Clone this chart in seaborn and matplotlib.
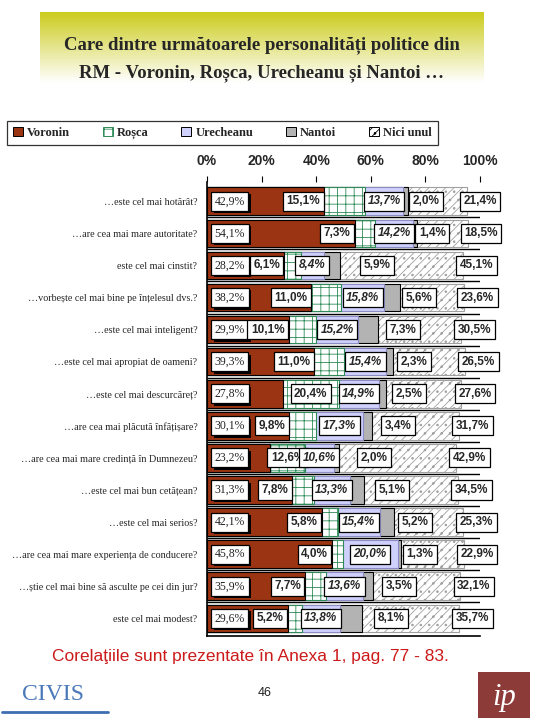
import numpy as np
import pandas as pd
import matplotlib
matplotlib.use("Agg")
import matplotlib.pyplot as plt
import matplotlib.patheffects as pe
from matplotlib.patches import Patch, Rectangle
import seaborn as sns

questions = [
    "…este cel mai hotărât?",
    "…are cea mai mare autoritate?",
    "este cel mai cinstit?",
    "…vorbește cel mai bine pe înțelesul dvs.?",
    "…este cel mai inteligent?",
    "…este cel mai apropiat de oameni?",
    "…este cel mai descurcăreț?",
    "…are cea mai plăcută înfățișare?",
    "…are cea mai mare credință în Dumnezeu?",
    "…este cel mai bun cetățean?",
    "…este cel mai serios?",
    "…are cea mai mare experiența de conducere?",
    "…știe cel mai bine să asculte pe cei din jur?",
    "este cel mai modest?",
]
voronin = [42.9, 54.1, 28.2, 38.2, 29.9, 39.3, 27.8, 30.1, 23.2, 31.3, 42.1, 45.8, 35.9, 29.6]
rosca = [15.1, 7.3, 6.1, 11.0, 10.1, 11.0, 20.4, 9.8, 12.6, 7.8, 5.8, 4.0, 7.7, 5.2]
urecheanu = [13.7, 14.2, 8.4, 15.8, 15.2, 15.4, 14.9, 17.3, 10.6, 13.3, 15.4, 20.0, 13.6, 13.8]
nantoi = [2.0, 1.4, 5.9, 5.6, 7.3, 2.3, 2.5, 3.4, 2.0, 5.1, 5.2, 1.3, 3.5, 8.1]
nici_unul = [21.4, 18.5, 45.1, 23.6, 30.5, 26.5, 27.6, 31.7, 42.9, 34.5, 25.3, 22.9, 32.1, 35.7]
series_names = ["Voronin", "Roșca", "Urecheanu", "Nantoi", "Nici unul"]
x_ticks = [0, 20, 40, 60, 80, 100]

sns.set_style("white")
plt.rcParams["font.family"] = ["Liberation Serif", "DejaVu Serif"]
plt.rcParams["hatch.linewidth"] = 0.6

df = pd.DataFrame({"q": questions, "Voronin": voronin, "Roșca": rosca,
                   "Urecheanu": urecheanu, "Nantoi": nantoi, "Nici unul": nici_unul})
cum = df[series_names].cumsum(axis=1)

styles = {
    "Voronin": dict(face="#9a3412", edge="black", hatch=None),
    "Roșca": dict(face="white", edge="#2e8b57", hatch="++"),
    "Urecheanu": dict(face="#cfd0fb", edge="#8c8cc4", hatch=None),
    "Nantoi": dict(face="#b3b3b3", edge="black", hatch=None),
    "Nici unul": dict(face="white", edge="#a0a0a0", hatch="////.."),
}

fig = plt.figure(figsize=(5.4, 7.2), dpi=100)
ax = fig.add_axes([207 / 540, 1 - 636 / 720, 273 / 540, 454 / 720])

# stacked bars: draw cumulative totals from the longest to the shortest
for name in reversed(series_names):
    st = styles[name]
    n0 = len(ax.patches)
    sns.barplot(data=cum.assign(q=df["q"]), x=name, y="q", order=questions,
                orient="h", color=st["face"], saturation=1, width=0.86,
                edgecolor=st["edge"], linewidth=0.8, ax=ax)
    for p in ax.patches[n0:]:
        p.set_facecolor(st["face"])
        p.set_edgecolor(st["edge"])
        if st["hatch"]:
            p.set_hatch(st["hatch"])

for i in range(len(questions) - 1):
    ax.plot([0, 100], [i + 0.5, i + 0.5], color="black", lw=1.0, zorder=3)

ax.set_xlim(0, 100)
ax.set_ylim(len(questions) - 0.45, -0.6)
ax.set_xlabel("")
ax.set_ylabel("")
ax.xaxis.tick_top()
ax.set_xticks(x_ticks)
ax.set_xticklabels([f"{t}%" for t in x_ticks], fontsize=10, fontweight="bold",
                   family="Liberation Sans")
ax.tick_params(axis="x", length=4, width=0.8, color="black", pad=6, direction="out")
ax.tick_params(axis="y", length=0, pad=7, labelsize=7.3)
for s in ["top", "right"]:
    ax.spines[s].set_visible(False)
for s in ["left", "bottom"]:
    ax.spines[s].set_color("black")
    ax.spines[s].set_linewidth(1.2)


def fmt(v):
    return f"{v:.1f}%".replace(".", ",")


box = dict(boxstyle="square,pad=0.3", facecolor="white", edgecolor="black", lw=0.9)
lab = dict(va="center", fontsize=8.5, fontweight="bold", family="Liberation Sans", zorder=5)
for i in range(len(questions)):
    v, r, u, n, o = voronin[i], rosca[i], urecheanu[i], nantoi[i], nici_unul[i]
    e1 = v
    e2 = v + r
    e3 = e2 + u
    e4 = e3 + n
    e5 = e4 + o
    t = ax.text(2.8, i, fmt(v), ha="left", va="center", fontsize=8.5, color="#222222",
                family="Liberation Serif", bbox=dict(box), zorder=5)
    t.get_bbox_patch().set_path_effects(
        [pe.withSimplePatchShadow(offset=(1.8, -1.8), shadow_rgbFace="black", alpha=1)])
    if v < 28:
        ax.text((e1 + e2) / 2, i, fmt(r), ha="center", bbox=dict(box), **lab)
    else:
        ax.text(e1 - 1.5, i, fmt(r), ha="right", bbox=dict(box), **lab)
    ax.text((e2 + e3) / 2, i, fmt(u), ha="center", fontstyle="italic", bbox=dict(box), **lab)
    ax.text(e4 + 0.3 * o, i, fmt(n), ha="center", bbox=dict(box), **lab)
    ax.text(e5 - 1.2, i, fmt(o), ha="left", bbox=dict(box), **lab)

# legend
handles = [Patch(facecolor=styles[nm]["face"],
                 edgecolor="black" if nm != "Roșca" else styles[nm]["edge"],
                 hatch=styles[nm]["hatch"], lw=0.7, label=nm) for nm in series_names]
leg = fig.legend(handles=handles, loc="upper left", bbox_to_anchor=(7 / 540, 1 - 121 / 720),
                 borderaxespad=0, ncol=5, frameon=True, fancybox=False, edgecolor="black",
                 handlelength=0.8, handleheight=0.8, handletextpad=0.35, columnspacing=2.6,
                 borderpad=0.45, prop=dict(family="Liberation Serif", weight="bold", size=9))
leg.get_frame().set_linewidth(0.9)

# title banner with gradient
tax = fig.add_axes([40 / 540, 1 - 95 / 720, 444 / 540, 83 / 720])
grad = np.linspace(0, 1, 100)[:, None]
top = np.array([0.80, 0.80, 0.12])
white = np.array([1.0, 1.0, 1.0])
mix = np.clip(grad / 0.85, 0, 1)
img = (1 - mix)[:, :, None] * top + mix[:, :, None] * white
tax.imshow(np.repeat(img, 2, axis=1), aspect="auto", extent=(0, 1, 0, 1))
tax.set_axis_off()
fig.text(0.485, 1 - 45 / 720, "Care dintre următoarele personalități politice din",
         ha="center", va="center", fontsize=13.5, fontweight="bold", family="Liberation Serif")
fig.text(0.485, 1 - 73 / 720, "RM - Voronin, Roșca, Urecheanu și Nantoi …",
         ha="center", va="center", fontsize=13.5, fontweight="bold", family="Liberation Serif")

# footer
fig.text(250 / 540, 1 - 657 / 720, "Corelaţiile sunt prezentate în Anexa 1, pag. 77 - 83.",
         ha="center", va="center", fontsize=12.5, color="#cc1a1a", family="Liberation Sans")
fig.text(265 / 540, 1 - 693 / 720, "46", ha="center", va="center", fontsize=9,
         family="Liberation Sans", color="#222222")
fig.text(22 / 540, 1 - 695 / 720, "CIVIS", ha="left", va="center", fontsize=17,
         color="#4a78b8", family="Liberation Serif")
fig.add_artist(plt.Line2D([2 / 540, 108 / 540], [1 - 712 / 720] * 2, color="#3f6eb0", lw=2))
fig.add_artist(Rectangle((478 / 540, 1 - 718 / 720), 52 / 540, 46 / 720, facecolor="#8c3b38",
                         edgecolor="none", transform=fig.transFigure))
fig.text(504 / 540, 1 - 697 / 720, "ip", ha="center", va="center", fontsize=22,
         color="white", fontstyle="italic", family="Liberation Serif")

fig.savefig("out.png", dpi=100)
